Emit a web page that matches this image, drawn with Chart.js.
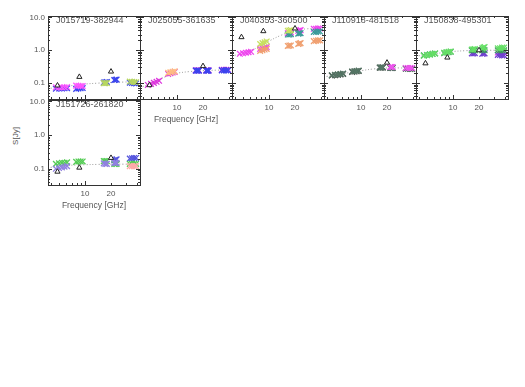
<!DOCTYPE html>
<html lang="en">
<head>
<meta charset="UTF-8">
<title>Radio spectra</title>
<script src="https://cdn.jsdelivr.net/npm/chart.js"></script>
<style>
  body {
    margin: 0;
    background: #fff;
    width: 525px;
    height: 387px;
    position: relative;
    overflow: hidden;
    font-family: "Liberation Sans", Arial, sans-serif;
  }
  .panel { position: absolute; }
  #ylab {
    position: absolute;
    left: 15px;
    top: 136px;
    transform: translate(-50%, -50%) rotate(-90deg);
    white-space: nowrap;
    font-size: 8px;
    color: #555;
  }
</style>
</head>
<body>

<div id="ylab">S[Jy]</div>

<script>
  // frequencies (GHz) of the measured points, shared by all sources
  const freqs = [4.6, 5.0, 5.4, 5.8, 6.2, 7.9, 8.4, 8.9, 9.4, 16.5, 17.2, 17.9, 21.8, 22.5, 23.2, 33, 35, 37, 39];
  const triFreqs = [4.8, 8.6, 20];
  const fitFreqs = [4, 5, 6, 8, 10, 14, 20, 28, 40];
  const N = null;

  // J015719-382944
  const p1Mag   = [0.075, 0.074, 0.074, 0.075, 0.076, 0.084, 0.083, 0.082, 0.082, N, N, N, N, N, N, N, N, N, N];
  const p1Blue  = [0.068, 0.069, 0.069, 0.070, 0.070, 0.067, 0.069, 0.070, 0.071, 0.104, 0.107, 0.109, 0.124, 0.127, 0.129, 0.104, 0.102, 0.100, 0.098];
  const p1Green = [N, N, N, N, N, N, N, N, N, 0.100, 0.100, 0.101, N, N, N, 0.112, 0.110, 0.108, 0.107];
  const p1Tri   = [0.085, 0.155, 0.225];
  const p1Fit   = [0.070, 0.075, 0.080, 0.088, 0.094, 0.100, 0.105, 0.108, 0.110];

  // J025055-361635
  const p2Mag    = [0.088, 0.095, 0.102, 0.110, 0.118, 0.190, 0.200, 0.210, 0.220, 0.245, 0.245, 0.245, 0.245, 0.245, 0.245, 0.255, 0.255, 0.255, 0.255];
  const p2Blue   = [N, N, N, N, N, N, N, N, N, 0.240, 0.240, 0.240, 0.240, 0.240, 0.240, 0.245, 0.245, 0.245, 0.245];
  const p2Orange = [N, N, N, N, N, 0.205, 0.215, 0.222, 0.228, N, N, N, N, N, N, N, N, N, N];
  const p2Tri    = [0.087, N, 0.33];
  const p2Fit    = [0.078, 0.100, 0.125, 0.170, 0.200, 0.225, 0.240, 0.248, 0.252];

  // J040353-360500
  const p3Mag    = [0.78, 0.81, 0.84, 0.87, 0.90, 1.10, 1.15, 1.20, 1.25, 3.3, 3.4, 3.5, 3.9, 4.0, 4.1, 4.5, 4.5, 4.6, 4.6];
  const p3Green  = [N, N, N, N, N, 1.55, 1.65, 1.75, 1.85, 3.9, 4.0, 4.1, N, N, N, N, N, N, N];
  const p3Orange = [N, N, N, N, N, 0.95, 1.00, 1.05, 1.10, 1.35, 1.38, 1.40, 1.55, 1.60, 1.65, 1.90, 1.95, 2.00, 2.00];
  const p3Teal   = [N, N, N, N, N, N, N, N, N, 3.0, 3.0, 3.1, 3.2, 3.3, 3.3, 3.6, 3.6, 3.7, 3.7];
  const p3Tri    = [2.5, 3.8, 4.6];
  const p3Fit    = [0.70, 0.80, 0.95, 1.35, 1.9, 2.9, 4.0, 4.5, 4.7];

  // J110918-481518
  const p4Black = [0.170, 0.175, 0.180, 0.185, 0.190, 0.220, 0.225, 0.230, 0.235, 0.295, 0.298, 0.300, 0.295, 0.293, 0.290, 0.280, 0.278, 0.276, 0.275];
  const p4Green = [0.175, 0.180, 0.185, 0.190, 0.195, 0.225, 0.230, 0.235, 0.240, 0.300, 0.300, 0.300, 0.290, 0.290, 0.290, 0.275, 0.275, 0.270, 0.270];
  const p4Mag   = [N, N, N, N, N, N, N, N, N, N, N, N, 0.310, 0.310, 0.310, 0.290, 0.290, 0.290, 0.290];
  const p4Tri   = [N, N, 0.42];
  const p4Fit   = [0.160, 0.175, 0.190, 0.220, 0.240, 0.270, 0.290, 0.290, 0.285];

  // J150838-495301
  const p5Green  = [0.68, 0.71, 0.74, 0.77, 0.80, 0.84, 0.87, 0.90, 0.92, 1.05, 1.07, 1.08, 1.15, 1.20, 1.25, 1.15, 1.15, 1.20, 1.20];
  const p5DkGrn  = [0.70, 0.72, 0.75, 0.78, 0.80, 0.82, 0.85, 0.87, 0.90, 1.00, 1.00, 1.00, 1.00, 1.05, 1.00, 1.00, 1.00, 1.00, 1.00];
  const p5Purple = [N, N, N, N, N, N, N, N, N, 0.80, 0.80, 0.82, 0.78, 0.80, 0.80, 0.72, 0.72, 0.70, 0.70];
  const p5Mag    = [N, N, N, N, N, N, N, N, N, N, N, N, N, N, N, 0.85, 0.85, 0.85, 0.85];
  const p5Tri    = [0.40, 0.60, 1.00];
  const p5Fit    = [0.68, 0.73, 0.78, 0.86, 0.92, 0.97, 1.00, 1.00, 1.00];

  // J151726-261820
  const p6Green  = [0.140, 0.145, 0.150, 0.150, 0.155, 0.160, 0.165, 0.165, 0.165, 0.170, 0.170, 0.170, 0.140, 0.140, 0.140, 0.140, 0.140, 0.140, 0.140];
  const p6Purple = [0.100, 0.105, 0.110, 0.115, 0.120, N, N, N, N, 0.145, 0.140, 0.140, 0.150, 0.150, 0.150, N, N, N, N];
  const p6Blue   = [N, N, N, N, N, N, N, N, N, N, N, N, 0.180, 0.185, 0.190, 0.200, 0.205, 0.210, 0.210];
  const p6Pink   = [N, N, N, N, N, N, N, N, N, N, N, N, N, N, N, 0.120, 0.120, 0.120, 0.120];
  const p6Tri    = [0.082, 0.108, 0.21];
  const p6Fit    = [0.110, 0.120, 0.125, 0.130, 0.132, 0.135, 0.137, 0.137, 0.135];

  const panels = [
    { name: "J015719-382944", box: [48, 16, 140, 99], showY: true, showX: false, title: false,
      sets: [[p1Green, "#b8d860"], [p1Mag, "#ff55ff"], [p1Blue, "#3a44ee"]], tri: p1Tri, fit: p1Fit },
    { name: "J025055-361635", box: [140, 16, 232, 99], showY: false, showX: true, title: true,
      sets: [[p2Orange, "#ffc080"], [p2Blue, "#3a44ee"], [p2Mag, "#dd33dd"]], tri: p2Tri, fit: p2Fit },
    { name: "J040353-360500", box: [232, 16, 324, 99], showY: false, showX: true, title: false,
      sets: [[p3Orange, "#f0a070"], [p3Green, "#c8e060"], [p3Teal, "#3a9a9a"], [p3Mag, "#ee44ee"]], tri: p3Tri, fit: p3Fit },
    { name: "J110918-481518", box: [324, 16, 416, 99], showY: false, showX: true, title: false,
      sets: [[p4Mag, "#ee55ee"], [p4Green, "#557766"], [p4Black, "#3a3a3a"]], tri: p4Tri, fit: p4Fit },
    { name: "J150838-495301", box: [416, 16, 508, 99], showY: false, showX: true, title: false,
      sets: [[p5Green, "#66e066"], [p5DkGrn, "#3a9a5a"], [p5Purple, "#7040d0"], [p5Mag, "#e040e0"]], tri: p5Tri, fit: p5Fit },
    { name: "J151726-261820", box: [48, 100, 140, 185], showY: true, showX: true, title: true,
      sets: [[p6Pink, "#ffaaaa"], [p6Purple, "#9080e0"], [p6Green, "#55cc55"], [p6Blue, "#5555dd"]], tri: p6Tri, fit: p6Fit }
  ];

  const xMinor = [4, 5, 6, 7, 8, 9, 20, 30, 40];
  const yMajor = [0.1, 1, 10];
  const yMinor = [];
  [0.01, 0.1, 1].forEach(d => { for (let k = 2; k <= 9; k++) if (k * d >= 0.034) yMinor.push(k * d); });

  Chart.defaults.font.family = '"Liberation Sans", Arial, sans-serif';
  Chart.defaults.color = "#555";

  // frame with inward ticks on all sides, plus the source name
  const framePlugin = {
    id: "frame",
    afterDatasetsDraw(chart, args, opts) {
      const { ctx, chartArea: a, scales: { x, y } } = chart;
      ctx.save();
      ctx.strokeStyle = "#333";
      ctx.lineWidth = 1;
      ctx.beginPath();
      const tickX = (v, len) => {
        const px = Math.round(x.getPixelForValue(v)) + 0.5;
        ctx.moveTo(px, a.bottom); ctx.lineTo(px, a.bottom - len);
        ctx.moveTo(px, a.top); ctx.lineTo(px, a.top + len);
      };
      const tickY = (v, len) => {
        const py = Math.round(y.getPixelForValue(v)) + 0.5;
        ctx.moveTo(a.left, py); ctx.lineTo(a.left + len, py);
        ctx.moveTo(a.right, py); ctx.lineTo(a.right - len, py);
      };
      xMinor.forEach(v => tickX(v, 2));
      tickX(10, 4);
      yMinor.forEach(v => tickY(v, 2));
      yMajor.forEach(v => tickY(v, 4));
      ctx.stroke();
      ctx.strokeRect(Math.round(a.left) + 0.5, Math.round(a.top) + 0.5,
                     Math.round(a.right - a.left), Math.round(a.bottom - a.top));
      ctx.fillStyle = "#555";
      ctx.font = '9px "Liberation Sans", Arial, sans-serif';
      ctx.textBaseline = "middle";
      ctx.fillText(opts.name, a.left + 8, a.top + 5);
      ctx.restore();
    }
  };

  panels.forEach((p, i) => {
    const [L, T, R, B] = p.box;
    const padL = p.showY ? 48 : 0, padT = 8, padR = 4;
    const padB = p.showX ? (p.title ? 26 : 16) : 4;
    const w = R - L + padL + padR, h = B - T + padT + padB;

    const wrap = document.createElement("div");
    wrap.className = "panel";
    wrap.style.left = (L - padL) + "px";
    wrap.style.top = (T - padT) + "px";
    wrap.style.width = w + "px";
    wrap.style.height = h + "px";
    const cv = document.createElement("canvas");
    cv.width = w; cv.height = h;
    wrap.appendChild(cv);
    document.body.appendChild(wrap);

    const toPts = (xs, ys) => xs.map((f, k) => ({ x: f, y: ys[k] })).filter(q => q.y != null);

    const datasets = [{
      type: "line",
      data: toPts(fitFreqs, p.fit),
      borderColor: "#999",
      borderWidth: 1,
      borderDash: [1, 2],
      pointRadius: 0,
      tension: 0.4,
      order: 10
    }];
    p.sets.forEach(([vals, col]) => datasets.push({
      data: toPts(freqs, vals),
      pointStyle: "crossRot",
      pointRadius: 4,
      borderColor: col,
      borderWidth: 1.3,
      order: 1
    }));
    datasets.push({
      data: toPts(triFreqs, p.tri),
      pointStyle: "triangle",
      pointRadius: 3,
      borderColor: "#222",
      backgroundColor: "#fff",
      borderWidth: 1,
      order: 0
    });

    // the scales' own label padding is dropped so the plot box keeps its size
    const noPad = s => { s.paddingTop = 0; s.paddingBottom = 0; s.paddingLeft = 0; s.paddingRight = 0; };

    const xScale = {
      type: "logarithmic",
      min: 3.73,
      max: 43.3,
      display: p.showX,
      grid: { display: false, drawTicks: false },
      border: { display: false },
      afterBuildTicks: s => { s.ticks = [{ value: 10 }, { value: 20 }]; },
      ticks: { font: { size: 8 }, color: "#555", padding: 4, maxRotation: 0, autoSkip: false,
               callback: v => String(v) },
      title: { display: p.title, text: "Frequency [GHz]", font: { size: 8.5 }, color: "#555",
               padding: { top: 0, bottom: 0 } },
      afterFit: s => { noPad(s); if (p.showX) s.height = padB; }
    };

    const yScale = {
      type: "logarithmic",
      min: 0.033,
      max: 11,
      display: p.showY,
      grid: { display: false, drawTicks: false },
      border: { display: false },
      afterBuildTicks: s => { s.ticks = yMajor.map(v => ({ value: v })); },
      ticks: { font: { size: 8 }, color: "#555", padding: 3, autoSkip: false,
               callback: v => v.toFixed(1) },
      afterFit: s => { noPad(s); if (p.showY) s.width = padL; }
    };

    new Chart(cv, {
      type: "scatter",
      data: { datasets },
      options: {
        responsive: false,
        animation: false,
        devicePixelRatio: 1,
        layout: { autoPadding: false, padding: { left: 0, top: padT, right: padR, bottom: p.showX ? 0 : padB } },
        plugins: { legend: { display: false }, tooltip: { enabled: false }, frame: { name: p.name } },
        scales: { x: xScale, y: yScale }
      },
      plugins: [framePlugin]
    });
  });
</script>
</body>
</html>
